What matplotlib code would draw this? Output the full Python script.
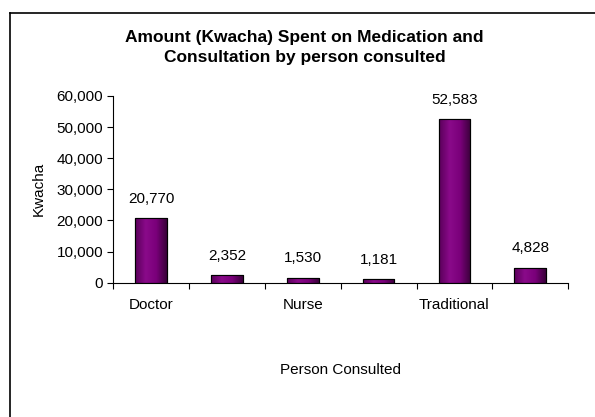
import numpy as np
import matplotlib
matplotlib.use("Agg")
import matplotlib.pyplot as plt
from matplotlib.lines import Line2D
from matplotlib.colors import LinearSegmentedColormap

plt.rcParams['font.family'] = ['Liberation Sans', 'DejaVu Sans']

categories = ["Doctor", "", "Nurse", "", "Traditional", ""]
amounts = [20770, 2352, 1530, 1181, 52583, 4828]
yticks = [0, 10000, 20000, 30000, 40000, 50000, 60000]

fig = plt.figure(figsize=(5.95, 4.17), dpi=100)
ax = fig.add_axes([0.19, 0.322, 0.765, 0.448])

x = np.arange(len(amounts))
w = 0.42
bars = ax.bar(x, amounts, width=w, color="#800080", edgecolor="black", linewidth=0.8, zorder=2)

# shading across each bar, like the cylinder-ish excel fill
cmap = LinearSegmentedColormap.from_list("p", ["#5a005a", "#8a0a8a", "#7a007a", "#3a003a"])
grad = np.linspace(0, 1, 64).reshape(1, -1)
for b in bars:
    im = ax.imshow(grad, cmap=cmap, aspect="auto", zorder=2.5,
                   extent=(b.get_x(), b.get_x() + b.get_width(), 0, b.get_height()))
    im.set_clip_path(b)
for b in bars:
    ax.add_patch(plt.Rectangle((b.get_x(), 0), b.get_width(), b.get_height(),
                               fill=False, edgecolor="black", linewidth=0.8, zorder=3))

for xi, v in zip(x, amounts):
    ax.annotate(f"{v:,}", (xi, v), xytext=(0, 9), textcoords="offset points",
                ha="center", va="bottom", fontsize=11)

ax.set_xlim(-0.5, len(amounts) - 0.5)
ax.set_ylim(0, 60000)
ax.set_yticks(yticks)
ax.set_yticklabels([f"{t:,}" for t in yticks], fontsize=11)
ax.set_xticks(x)
ax.set_xticklabels(categories, fontsize=11)
ax.tick_params(axis="x", length=0, pad=11)
ax.set_xticks(np.arange(len(amounts) + 1) - 0.5, minor=True)
ax.tick_params(axis="x", which="minor", length=4, width=0.8)
ax.tick_params(axis="y", length=4, width=0.8, pad=3)

for s in ["top", "right"]:
    ax.spines[s].set_visible(False)
ax.spines["left"].set_linewidth(0.8)
ax.spines["bottom"].set_linewidth(0.8)

ax.set_ylabel("Kwacha", fontsize=11, labelpad=8)
ax.set_xlabel("Person Consulted", fontsize=11, labelpad=37)
fig.text(0.512, 0.886, "Amount (Kwacha) Spent on Medication and\nConsultation by person consulted",
         ha="center", va="center", fontsize=12.5, fontweight="bold", linespacing=1.35)

# outer chart frame (only left and top edges are visible in the picture)
fig.add_artist(Line2D([9.5 / 595, 9.5 / 595], [0, 1 - 12.5 / 417], color="black", linewidth=1.2))
fig.add_artist(Line2D([9.5 / 595, 1], [1 - 12.5 / 417, 1 - 12.5 / 417], color="black", linewidth=1.2))

fig.savefig("out.png", dpi=100)
